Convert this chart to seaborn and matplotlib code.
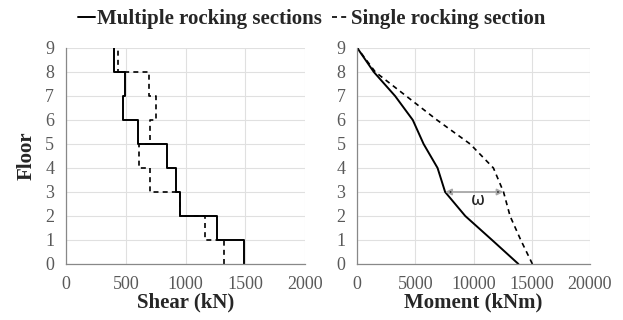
import numpy as np
import pandas as pd
import matplotlib.pyplot as plt
import seaborn as sns
from matplotlib.lines import Line2D

# storey shear, listed per storey from bottom (0-1) to top (8-9)
floors = np.arange(0, 10)
shear_multi = [1490, 1265, 955, 918, 845, 600, 480, 490, 400]
shear_single = [1320, 1160, 955, 705, 610, 705, 750, 690, 438]

# moment at each floor level 0..9
moment_multi = [13850, 11580, 9280, 7550, 6900, 5700, 4770, 3250, 1420, 0]
moment_single = [15050, 14050, 13130, 12570, 11700, 9700, 6850, 4200, 1550, 0]

omega_floor = 3

sns.set_style('white')
plt.rcParams['font.family'] = ['Liberation Serif', 'DejaVu Serif']

def step_df(vals):
    x = np.repeat(vals, 2)
    y = np.column_stack([floors[:-1], floors[1:]]).ravel()
    return pd.DataFrame({'x': x, 'y': y})

fig = plt.figure(figsize=(6.23, 3.2), dpi=100)
ax1 = fig.add_axes([0.106, 0.175, 0.384, 0.675])
ax2 = fig.add_axes([0.5735, 0.175, 0.3735, 0.675])

solid = dict(color='black', lw=1.4, linestyle='-')
dashed = dict(color='black', lw=1.2, linestyle=(0, (3, 2.5)))

sns.lineplot(data=step_df(shear_single), x='x', y='y', sort=False, estimator=None, ax=ax1, **dashed)
sns.lineplot(data=step_df(shear_multi), x='x', y='y', sort=False, estimator=None, ax=ax1, **solid)

dm = pd.DataFrame({'floor': floors, 'multi': moment_multi, 'single': moment_single})
sns.lineplot(data=dm, x='single', y='floor', sort=False, estimator=None, ax=ax2, **dashed)
sns.lineplot(data=dm, x='multi', y='floor', sort=False, estimator=None, ax=ax2, **solid)

# omega arrow between the two moment curves
ax2.annotate('', xy=(moment_multi[omega_floor], omega_floor),
             xytext=(moment_single[omega_floor], omega_floor),
             arrowprops=dict(arrowstyle='<|-|>', color='#a8a8a8', fc='black',
                             lw=1.3, shrinkA=0, shrinkB=0, mutation_scale=9))
ax2.text(10400, 2.68, 'ω', fontsize=12, ha='center', va='center',
         family=['DejaVu Sans'], color='#222222')

for ax, xmax, xt, lab in [(ax1, 2000, 500, 'Shear (kN)'), (ax2, 20000, 5000, 'Moment (kNm)')]:
    ax.set_xlim(0, xmax)
    ax.set_ylim(0, 9)
    ax.set_xticks(np.arange(0, xmax + 1, xt))
    ax.set_yticks(floors)
    ax.grid(True, color='#e0e0e0', lw=0.8)
    ax.set_axisbelow(True)
    for s in ['top', 'right']:
        ax.spines[s].set_visible(False)
    for s in ['left', 'bottom']:
        ax.spines[s].set_color('#888888')
        ax.spines[s].set_linewidth(0.9)
    ax.tick_params(direction='inout', length=5, width=0.8, color='#888888',
                   labelsize=13, labelcolor='#595959')
    ax.tick_params(axis='x', pad=6)
    ax.tick_params(axis='y', pad=6)
    ax.set_xlabel(lab, fontsize=15, fontweight='bold', labelpad=0)
    ax.set_ylabel('')

ax1.set_ylabel('Floor', fontsize=15, fontweight='bold', labelpad=6)

handles = [Line2D([], [], **solid), Line2D([], [], **dashed)]
fig.legend(handles, ['Multiple rocking sections', 'Single rocking section'],
           loc='center', bbox_to_anchor=(0.5, 0.94), ncol=2, frameon=False,
           handlelength=0.8, handletextpad=0.1, columnspacing=0.5,
           prop=dict(family='Liberation Serif', weight='bold', size=15))

fig.savefig('out.png', dpi=100)
